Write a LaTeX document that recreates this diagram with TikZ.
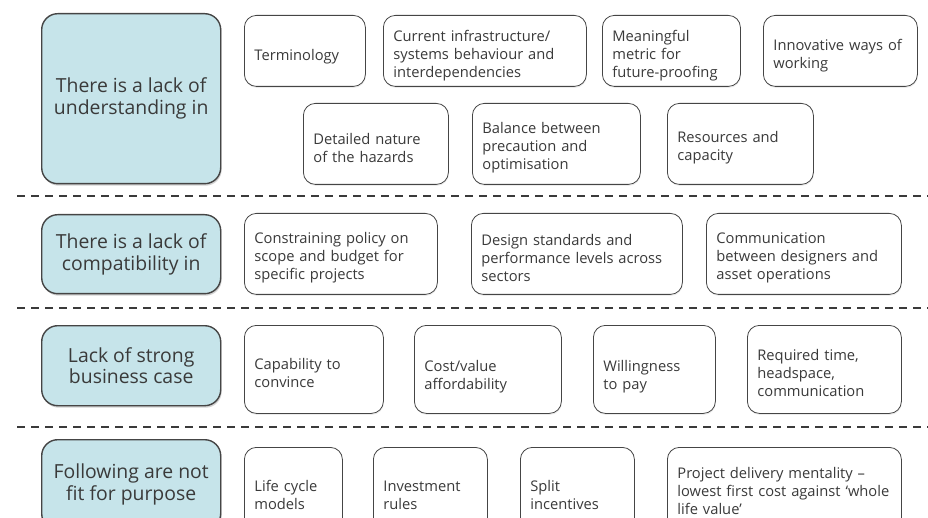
\documentclass[tikz,border=0pt]{standalone}
\usepackage{fontspec}
\setmainfont{Open Sans}
\usetikzlibrary{shadows}
\definecolor{boxblue}{HTML}{C6E4EA}
\definecolor{edgegray}{HTML}{454545}
\definecolor{txtgray}{HTML}{3A3A3A}
\begin{document}
\begin{tikzpicture}[x=1pt, y=-1pt, line join=round,
	head/.style={draw=edgegray, line width=1.4pt, fill=boxblue, rounded corners=16pt, anchor=north west, align=center, text=txtgray, minimum width=179pt, font=\fontsize{19.4}{21.7}\selectfont, drop shadow={opacity=0.35, shadow xshift=1pt, shadow yshift=-2pt}},
	tdrop/.style={execute at begin node={\rule{0pt}{#1}}},
	item/.style={draw=edgegray, line width=0.8pt, fill=white, rounded corners=12pt, anchor=north west, align=left, inner xsep=10pt, text=txtgray, font=\fontsize{14.7}{18}\selectfont, drop shadow={opacity=0.15, shadow xshift=0.5pt, shadow yshift=-1.5pt}},
	sep/.style={dash pattern=on 8pt off 6pt, line width=1.8pt, draw=txtgray}]
	%Khung hình.
	\useasboundingbox (0,0) rectangle (928,518);
	\clip (0,0) rectangle (928,518);
	%Đường phân cách.
	\foreach \y in {196,308,427}{
		\draw[sep] (17,\y)--(928,\y);
	}
	%Hàng 1: hiểu biết.
	\node[head, minimum height=170pt] (under) at (41,13) {There is a lack of\\understanding in};
	\node[item, text width=101pt, minimum height=71pt, tdrop=23pt] (term) at (244,15) {Terminology};
	\node[item, text width=183pt, minimum height=71pt, tdrop=21pt] (infra) at (383,15) {Current infrastructure/\\systems behaviour and\\interdependencies};
	\node[item, text width=118pt, minimum height=71pt, tdrop=21pt] (metric) at (602,15) {Meaningful\\metric for\\future-proofing};
	\node[item, text width=134pt, minimum height=71pt, tdrop=21pt] (innov) at (763,15) {Innovative ways of\\working};
	\node[item, text width=125pt, minimum height=81pt, tdrop=19pt] (hazard) at (303,103) {Detailed nature\\of the hazards};
	\node[item, text width=148pt, minimum height=81pt, tdrop=19pt] (balance) at (472,103) {Balance between\\precaution and\\optimisation};
	\node[item, text width=126pt, minimum height=81pt, tdrop=19pt] (resrc) at (667,103) {Resources and\\capacity};
	%Hàng 2: tương thích.
	\node[head, minimum height=79pt] (compat) at (41,214) {There is a lack of\\compatibility in};
	\node[item, text width=173pt, minimum height=81pt, tdrop=19pt] (policy) at (244,213) {Constraining policy on\\scope and budget for\\specific projects};
	\node[item, text width=191pt, minimum height=81pt, tdrop=19pt] (stand) at (471,213) {Design standards and\\performance levels across\\sectors};
	\node[item, text width=175pt, minimum height=81pt, tdrop=19pt] (comm) at (706,213) {Communication\\between designers and\\asset operations};
	%Hàng 3: lý do kinh doanh.
	\node[head, minimum height=80pt] (busi) at (41,325) {Lack of strong\\business case};
	\node[item, text width=119pt, minimum height=88pt, tdrop=19pt] (convin) at (244,325) {Capability to\\convince};
	\node[item, text width=127pt, minimum height=88pt, tdrop=25pt] (cost) at (414,325) {Cost/value\\affordability};
	\node[item, text width=102pt, minimum height=88pt, tdrop=25pt] (pay) at (593,325) {Willingness\\to pay};
	\node[item, text width=134pt, minimum height=88pt, tdrop=19pt] (time) at (747,325) {Required time,\\headspace,\\communication};
	%Hàng 4: không phù hợp.
	\node[head, minimum height=90pt] (unfit) at (41,439) {Following are not\\fit for purpose};
	\node[item, text width=78pt, minimum height=87pt, tdrop=19pt] (life) at (244,447) {Life cycle\\models};
	\node[item, text width=94pt, minimum height=87pt, tdrop=19pt] (invest) at (373,447) {Investment\\rules};
	\node[item, text width=94pt, minimum height=87pt, tdrop=19pt] (split) at (520,447) {Split\\incentives};
	\node[item, text width=214pt, minimum height=87pt, tdrop=12pt] (deliv) at (667,447) {Project delivery mentality –\\lowest first cost against ‘whole\\life value’};
\end{tikzpicture}
\end{document}
